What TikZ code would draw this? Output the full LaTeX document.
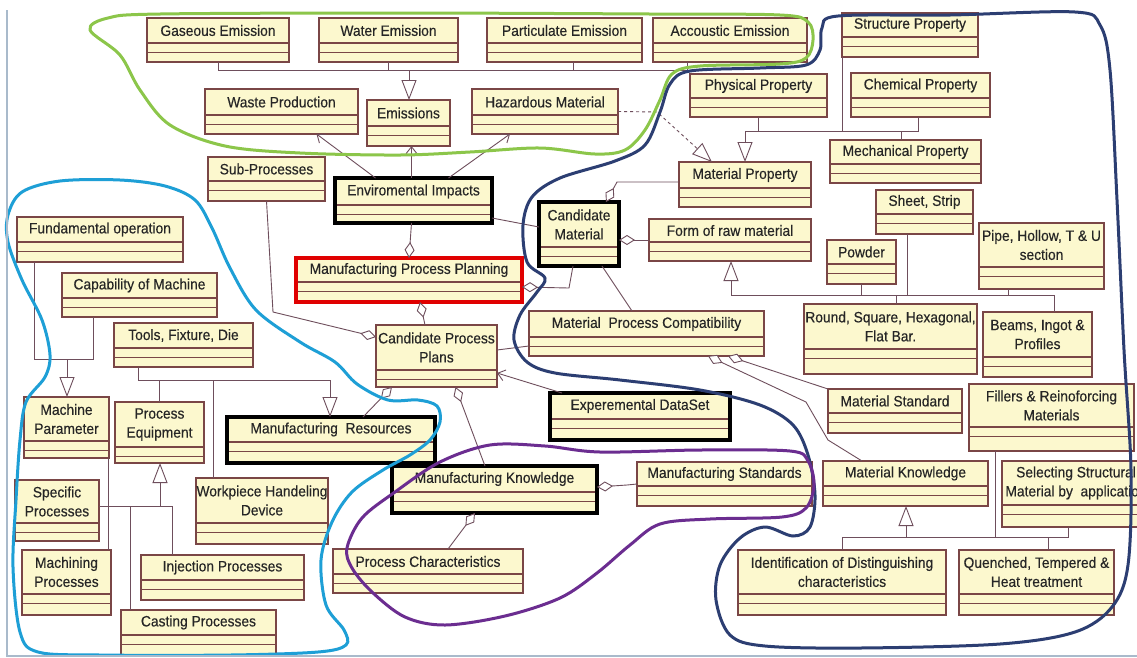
\documentclass[tikz,border=0pt]{standalone}
\usepackage{fontspec}
\setmainfont{Liberation Sans}[FakeStretch=0.92, FakeBold=0.35]
\usetikzlibrary{arrows.meta}

\definecolor{boxfill}{HTML}{FCF8CE}
\definecolor{boxline}{HTML}{7A4646}
\definecolor{linec}{HTML}{6E4E5C}
\definecolor{txt}{HTML}{262626}
\definecolor{grn}{HTML}{8CC64A}
\definecolor{cyn}{HTML}{1E9FD6}
\definecolor{nvy}{HTML}{2C3E72}
\definecolor{prp}{HTML}{6B2D90}
\definecolor{framec}{HTML}{A9BACB}

\tikzset{
  boxedge/.style={draw=boxline, line width=1.3pt, fill=none, inner sep=0pt, outer sep=0pt},
  heavy/.style={draw=black, line width=3.4pt},
  redbox/.style={draw=red!88!black, line width=3.4pt},
  compline/.style={draw=boxline, line width=1.1pt},
  classname/.style={font=\fontsize{15}{19}\selectfont, text=txt, align=center, inner sep=0pt},
  conn/.style={draw=linec, line width=0.9pt},
  gen/.style={conn, -{Triangle[open, fill=white, length=20pt, width=15pt]}},
  agg/.style={conn, {Diamond[open, fill=white, length=16pt, width=10pt]}-},
  nav/.style={conn, -{Straight Barb[length=7pt, width=11pt]}},
  outline/.style={line width=3pt, line cap=round, line join=round},
}

% class box: [style] name, x1, y1, x2, y2, first compartment line, title
\newcommand\umlclass[8][]{%
  \fill[boxfill] (#3,#4) rectangle (#5,#6);
  \draw[compline] (#3,#7) -- (#5,#7) (#3,#7+9.5) -- (#5,#7+9.5);
  \node[boxedge,#1,minimum width={(#5-#3)*1pt},minimum height={(#6-#4)*1pt}] (#2) at ({(#3+#5)/2},{(#4+#6)/2}) {};
  \node[classname] at ({(#3+#5)/2},{(#4+#7)/2}) {#8};
}

\begin{document}
\begin{tikzpicture}[x=1pt,y=-1pt]
\useasboundingbox (0,0) rectangle (1137,657);
\fill[white] (0,0) rectangle (1137,657);

% ---------- classes ----------
\umlclass{gas}{147}{18}{289}{62}{43}{Gaseous Emission}
\umlclass{water}{319}{18}{458}{62}{43}{Water Emission}
\umlclass{partic}{487}{18}{642}{62}{43}{Particulate Emission}
\umlclass{acous}{653}{18}{807}{62}{43}{Accoustic Emission}
\umlclass{waste}{205}{89}{358}{134}{115}{Waste Production}
\umlclass{emis}{367}{100}{450}{146}{126}{Emissions}
\umlclass{hazard}{472}{89}{618}{134}{115}{Hazardous Material}
\umlclass{phys}{690}{74}{827}{117}{98}{Physical Property}
\umlclass{struct}{842}{13}{978}{57}{37}{Structure Property}
\umlclass{chem}{851}{73}{990}{117}{98}{Chemical Property}
\umlclass{mech}{830}{140}{981}{183}{164}{Mechanical Property}
\umlclass{matprop}{679}{162}{811}{207}{188}{Material Property}
\umlclass{subp}{208}{157}{325}{201}{181}{Sub-Processes}
\umlclass[heavy]{envi}{335}{178}{492}{223}{205}{Enviromental Impacts}
\umlclass[heavy]{candmat}{539}{202}{619}{266}{247}{Candidate\\Material}
\umlclass{form}{649}{219}{811}{261}{242}{Form of raw material}
\umlclass{sheet}{876}{190}{973}{234}{214}{Sheet, Strip}
\umlclass{powder}{827}{240}{896}{284}{264}{Powder}
\umlclass{pipe}{979}{223}{1104}{289}{267}{Pipe, Hollow, T \& U\\section}
\umlclass{round}{804}{304}{977}{374}{349}{Round, Square, Hexagonal,\\Flat Bar.}
\umlclass{beams}{983}{312}{1092}{377}{357}{Beams, Ingot \&\\Profiles}
\umlclass[redbox]{mpp}{296}{258}{522}{302}{282}{Manufacturing Process Planning}
\umlclass{fund}{17}{217}{183}{262}{242}{Fundamental operation}
\umlclass{capab}{62}{273}{217}{317}{298}{Capability of Machine}
\umlclass{tools}{114}{323}{253}{367}{348}{Tools, Fixture, Die}
\umlclass{cpp}{376}{325}{497}{387}{370}{Candidate Process\\Plans}
\umlclass{mpc}{529}{311}{764}{356}{337}{Material\ \ Process Compatibility}
\umlclass{matstd}{828}{389}{962}{433}{413}{Material Standard}
\umlclass{fillers}{969}{384}{1134}{451}{427}{Fillers \& Reinoforcing\\Materials}
\umlclass[heavy]{expd}{550}{393}{730}{440}{419}{Experemental DataSet}
\umlclass[heavy]{mres}{227}{417}{435}{463}{442}{Manufacturing\ \ Resources}
\umlclass{machp}{24}{397}{109}{458}{441}{Machine\\Parameter}
\umlclass{proceq}{115}{402}{204}{463}{447}{Process\\Equipment}
\umlclass{specp}{15}{480}{99}{541}{523}{Specific\\Processes}
\umlclass{workp}{196}{478}{328}{544}{523}{Workpiece Handeling\\Device}
\umlclass[heavy]{mknow}{392}{466}{597}{513}{492}{Manufacturing Knowledge}
\umlclass{mstds}{637}{462}{812}{506}{486}{Manufacturing Standards}
\umlclass{matknow}{823}{461}{988}{506}{486}{Material Knowledge}
\umlclass{select}{1002}{461}{1150}{527}{505}{Selecting Structural\\Material by\ \ application}
\umlclass{machin}{22}{550}{111}{615}{594}{Machining\\Processes}
\umlclass{inject}{141}{555}{304}{600}{580}{Injection Processes}
\umlclass{pchar}{333}{549}{523}{593}{574}{Process Characteristics}
\umlclass{cast}{121}{610}{276}{655}{635}{Casting Processes}
\umlclass{ident}{738}{550}{946}{615}{594}{Identification of Distinguishing\\characteristics}
\umlclass{quench}{959}{550}{1114}{615}{594}{Quenched, Tempered \&\\Heat treatment}

% ---------- junction points ----------
\coordinate (ebus) at (409,70);
\coordinate (pbus) at (745,131);
\coordinate (hz) at (657,112);
\coordinate (fbus) at (731,295);
\coordinate (tbus) at (330,380);
\coordinate (mbus) at (67,359);
\coordinate (pbus2) at (160,506);
\coordinate (kbus) at (906,537);
\coordinate (cmk) at (617,182);
\coordinate (cmpp) at (569,288);
\coordinate (sbend) at (273,312);
\coordinate (mkb) at (627,485);
\coordinate (mk1) at (806,402);
\coordinate (mk2) at (828,440);

% ---------- emissions ----------
\draw[conn] (gas.south) |- (ebus);
\draw[conn] (water.south) |- (ebus);
\draw[conn] ([xshift=9]partic.south) |- (ebus);
\draw[conn] ([xshift=-43]acous.south) |- (ebus);
\draw[gen] (ebus) -- (emis.north -| ebus);

% ---------- material properties ----------
\draw[conn] (phys.south) |- (pbus);
\draw[conn] (struct.south west) |- (pbus);
\draw[conn] ([xshift=-2]chem.south) |- (pbus);
\draw[conn] ([xshift=-4]mech.north) |- (pbus);
\draw[gen] (pbus) -- (matprop.north -| pbus);
\draw[gen, dashed] (hazard.east) -- (hz) -- ([xshift=-33]matprop.north);
\draw[agg] ([xshift=27]candmat.north) -- (cmk) -- (matprop.west |- cmk);
\draw[agg] (candmat.east |- form.west) -- (form.west);

% ---------- raw material forms ----------
\draw[conn] (powder.south) |- (fbus);
\draw[conn] ([xshift=-17]sheet.south) |- (fbus);
\draw[conn] ([xshift=6]round.north) |- (fbus);
\draw[conn] ([xshift=-33.5]pipe.south) |- (fbus);
\draw[conn] ([xshift=16.5]beams.north) |- (fbus);
\draw[gen] (fbus) -- (form.south -| fbus);

% ---------- environmental impacts ----------
\draw[nav] ([xshift=-38]envi.north) -- ([xshift=35]waste.south);
\draw[nav] ([xshift=-2]envi.north) -- ([xshift=3]emis.south);
\draw[nav] ([xshift=35]envi.north) -- ([xshift=-35]hazard.south);
\draw[conn] ([yshift=5]envi.south east) -- ([yshift=7]candmat.west);
\draw[agg] (mpp.north) -- ([xshift=-2]envi.south);

% ---------- planning core ----------
\draw[agg] ([yshift=-7]mpp.east) -- (cmpp) -- ([xshift=-6]candmat.south);
\draw[conn] ([xshift=23]candmat.south) -- ([xshift=-14.5]mpc.north);
\draw[agg] ([yshift=19]cpp.west) -- (sbend) -- (subp.south);
\draw[agg] ([xshift=11]mpp.south) -- ([xshift=-11.5]cpp.north);
\draw[conn] ([yshift=6]cpp.east) -- ([yshift=-12.5]mpc.west);
\draw[nav] ([xshift=12]expd.north west) -- ([yshift=-17]cpp.east);
\draw[agg] ([xshift=-44.5]cpp.south) -- ([xshift=32]mres.north);
\draw[agg] ([xshift=19]cpp.south) -- ([xshift=-9.5]mknow.north);

% ---------- resources ----------
\draw[conn] ([xshift=-45.5]tools.south) |- (tbus);
\draw[conn] (proceq.north) |- (tbus);
\draw[conn] ([xshift=-49]workp.north) |- (tbus);
\draw[gen] (tbus) -- (mres.north -| tbus);
\draw[conn] ([xshift=-66]fund.south) |- (mbus);
\draw[conn] ([xshift=-46.5]capab.south) |- (mbus);
\draw[gen] (mbus) -- (machp.north -| mbus);
\draw[conn] (specp.east |- pbus2) -- (pbus2);
\draw[conn] ([xshift=-50.5]inject.north) |- (pbus2);
\draw[conn] ([xshift=-68.5]cast.north) |- (pbus2);
\draw[conn] ([xshift=-1]machp.south east) -- ([xshift=41.5]machin.north);
\draw[gen] (pbus2) -- (proceq.south -| pbus2);

% ---------- knowledge ----------
\draw[agg] ([yshift=2.5]mknow.east) -- (mkb) -- (mstds.west);
\draw[agg] ([xshift=-19.5]mknow.south) -- ([xshift=20]pchar.north);
\draw[agg] ([xshift=81.5]mpc.south) -- (matstd.north west);
\draw[agg] ([xshift=61.5]mpc.south) -- (mk1) -- (mk2) -- ([xshift=-43.5]matknow.north);
\draw[conn] (ident.north) |- (kbus);
\draw[conn] ([xshift=11.5]quench.north) |- (kbus);
\draw[conn] ([xshift=-56.5]fillers.south) |- (kbus);
\draw[conn] ([xshift=-8]select.south) |- (kbus);
\draw[gen] (kbus) -- (matknow.south -| kbus);

% ---------- freehand group outlines ----------
\draw[outline, grn] plot[smooth cycle, tension=0.55] coordinates {
  (90,30) (108,18) (160,14) (400,13) (650,14) (780,15) (808,22) (813,40)
  (806,58) (780,64) (700,66) (672,74) (660,100) (645,130) (625,150)
  (595,154) (540,148) (470,152) (400,155) (300,153) (225,146) (170,125)
  (140,90) (120,55)};
\draw[outline, nvy] plot[smooth cycle, tension=0.55] coordinates {
  (822,28) (838,16) (950,15) (1075,12) (1100,25) (1110,70) (1117,200)
  (1124,350) (1131,470) (1128,565) (1112,607) (1075,632) (1000,644)
  (860,648) (765,646) (730,635) (716,600) (720,565) (740,538) (765,527)
  (793,536) (810,527) (815,495) (808,455) (793,425) (760,405) (700,390)
  (620,380) (555,373) (527,362) (514,340) (520,315) (537,292) (545,278)
  (527,262) (523,225) (532,197) (560,178) (615,161) (645,145) (660,112)
  (670,84) (690,71) (760,68) (806,65) (820,50)};
\draw[outline, cyn] plot[smooth cycle, tension=0.55] coordinates {
  (8,215) (22,192) (60,181) (120,180) (165,186) (195,200) (212,228)
  (230,268) (256,310) (300,342) (335,362) (357,384) (388,400) (418,400)
  (437,406) (440,422) (430,440) (410,455) (383,470) (352,492) (332,522)
  (321,560) (326,605) (344,630) (346,645) (318,652) (230,655) (100,655)
  (38,652) (20,632) (13,567) (16,500) (20,440) (26,402) (45,377) (50,355)
  (42,320) (22,280) (8,242)};
\draw[outline, prp] plot[smooth cycle, tension=0.55] coordinates {
  (347,548) (362,518) (395,492) (440,462) (490,445) (545,446) (600,452)
  (700,450) (790,451) (808,461) (814,485) (806,508) (782,517) (710,519)
  (660,524) (630,545) (597,573) (560,598) (505,616) (445,625) (405,617)
  (372,592) (352,568)};

% ---------- page frame ----------
\draw[framec, line width=1.5pt] (7,10) -- (7,656) -- (1137,656);
\end{tikzpicture}
\end{document}
